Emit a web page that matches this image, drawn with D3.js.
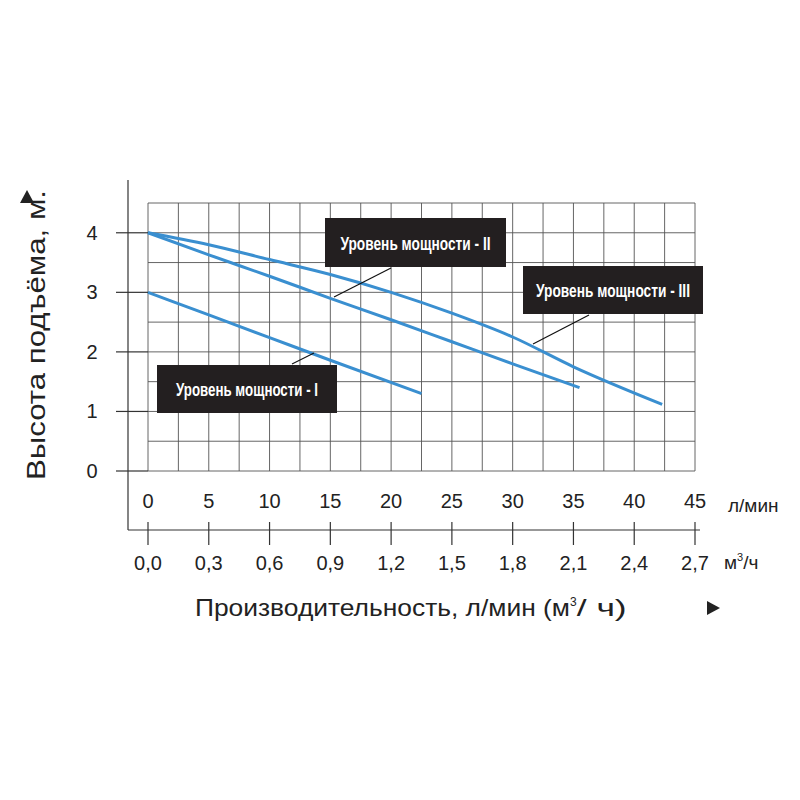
<!DOCTYPE html><html><head><meta charset="utf-8"><script src="https://d3js.org/d3.v7.min.js"></script>
<style>body{margin:0;background:#fff}</style></head><body><svg id="c" width="800" height="800"></svg>
<script>
const xTicks=[0,5,10,15,20,25,30,35,40,45];
const m3Ticks=["0,0","0,3","0,6","0,9","1,2","1,5","1,8","2,1","2,4","2,7"];
const yTicks=[0,1,2,3,4];
const curveI=[[0,3],[5,2.62],[10,2.24],[15,1.86],[22.5,1.3]];
const curveII=[[0,4],[5,3.63],[10,3.27],[15,2.9],[20,2.54],[25,2.17],[30,1.8],[35.5,1.4]];
const curveIII=[[0,4],[5,3.8],[10,3.55],[15,3.3],[20,3.0],[25,2.65],[30,2.25],[35,1.75],[42.3,1.12]];
const labels=["Уровень мощности - I","Уровень мощности - II","Уровень мощности - III"];

const svg=d3.select("#c");
const x=d3.scaleLinear().domain([0,45]).range([148,695]);
const y=d3.scaleLinear().domain([0,4.5]).range([471,203]);
const g=svg.append("g");
const F="Liberation Sans, Arial";
d3.range(0,45.01,2.5).forEach(v=>g.append("line").attr("x1",x(v)).attr("x2",x(v)).attr("y1",y(0)).attr("y2",y(4.5)).attr("stroke","#555").attr("stroke-width",0.9));
d3.range(0,4.51,0.5).forEach(v=>g.append("line").attr("x1",x(0)).attr("x2",x(45)).attr("y1",y(v)).attr("y2",y(v)).attr("stroke","#555").attr("stroke-width",0.9));
g.append("line").attr("x1",128).attr("x2",128).attr("y1",180).attr("y2",530).attr("stroke","#333").attr("stroke-width",1.2);
yTicks.forEach(v=>{
  g.append("line").attr("x1",116).attr("x2",x(0)).attr("y1",y(v)).attr("y2",y(v)).attr("stroke","#333").attr("stroke-width",1.2);
  g.append("text").attr("x",92).attr("y",y(v)+7).attr("text-anchor","middle").attr("font-family",F).attr("font-size",20).attr("fill","#222").text(v);
});
g.append("line").attr("x1",128).attr("x2",700).attr("y1",530).attr("y2",530).attr("stroke","#333").attr("stroke-width",1.2);
xTicks.forEach((v,i)=>{
  g.append("line").attr("x1",x(v)).attr("x2",x(v)).attr("y1",522).attr("y2",545).attr("stroke","#333").attr("stroke-width",1.2);
  g.append("text").attr("x",x(v)).attr("y",508).attr("text-anchor","middle").attr("font-family",F).attr("font-size",20).attr("fill","#222").text(v);
  g.append("text").attr("x",x(v)).attr("y",570).attr("text-anchor","middle").attr("font-family",F).attr("font-size",20).attr("fill","#222").text(m3Ticks[i]);
});
g.append("text").attr("x",728).attr("y",512).attr("font-family",F).attr("font-size",19).attr("fill","#222").text("л/мин");
const mt=g.append("text").attr("x",724).attr("y",569).attr("font-family",F).attr("font-size",19).attr("fill","#222");
mt.append("tspan").text("м");mt.append("tspan").attr("font-size",11).attr("dy",-8).text("3");mt.append("tspan").attr("dy",8).text("/ч");
const tt=g.append("text").attr("x",195).attr("y",616).attr("font-family",F).attr("font-size",24).attr("fill","#222");
tt.append("tspan").attr("textLength",375).attr("lengthAdjust","spacingAndGlyphs").text("Производительность, л/мин (м");
tt.append("tspan").attr("font-size",12).attr("dy",-10).text("3");
tt.append("tspan").attr("dy",10).attr("textLength",50).attr("lengthAdjust","spacingAndGlyphs").text("/ ч)");
g.append("path").attr("d","M707,601 L720,608 L707,615 Z").attr("fill","#222");
g.append("path").attr("d","M20,203 L27,190 L34,203 Z").attr("fill","#222");
g.append("text").attr("transform","translate(45,335) rotate(-90)").attr("text-anchor","middle").attr("font-family",F).attr("font-size",25).attr("textLength",290).attr("lengthAdjust","spacingAndGlyphs").attr("fill","#222").text("Высота подъёма, м.");
const line=d3.line().x(d=>x(d[0])).y(d=>y(d[1])).curve(d3.curveMonotoneX);
[curveI,curveII,curveIII].forEach(c=>g.append("path").attr("d",line(c)).attr("fill","none").attr("stroke","#3a8fd0").attr("stroke-width",3));
const boxes=[[157,365,180,48,314,353,292,364,142],[325,218,181,49,391,268,334,297,150],[523,266,180,48,589,315,533,344,154]];
boxes.forEach((b,i)=>{
  g.append("line").attr("x1",b[4]).attr("y1",b[5]).attr("x2",b[6]).attr("y2",b[7]).attr("stroke","#111").attr("stroke-width",1.2);
  g.append("rect").attr("x",b[0]).attr("y",b[1]).attr("width",b[2]).attr("height",b[3]).attr("fill","#231f20");
  g.append("text").attr("x",b[0]+b[2]/2).attr("y",b[1]+b[3]/2+7).attr("text-anchor","middle").attr("font-family",F).attr("font-weight","bold").attr("font-size",19).attr("textLength",b[8]).attr("lengthAdjust","spacingAndGlyphs").attr("fill","#fff").text(labels[i]);
});
</script></body></html>
